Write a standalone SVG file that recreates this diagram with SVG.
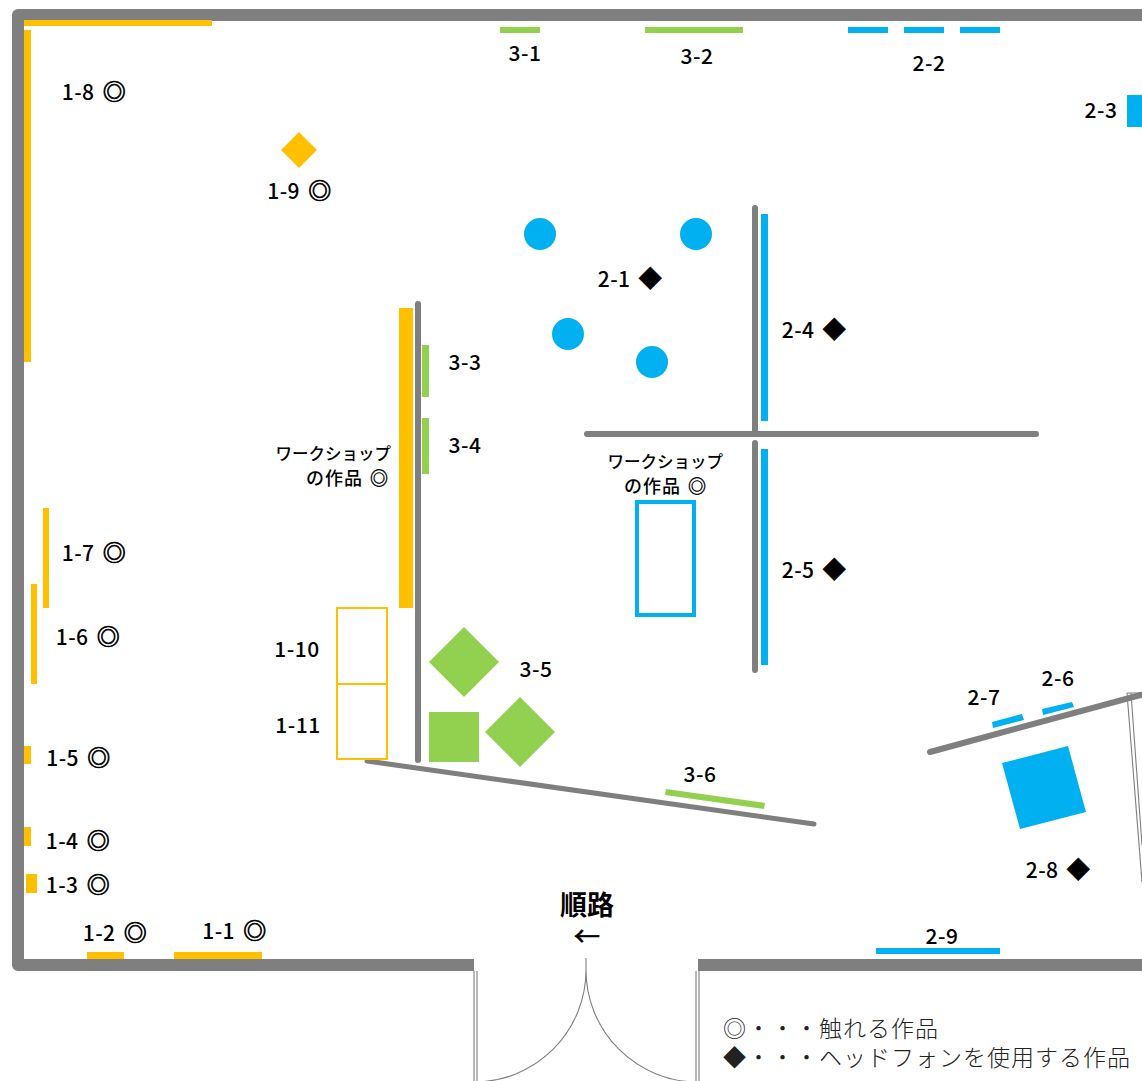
<svg xmlns="http://www.w3.org/2000/svg" width="1142" height="1081" viewBox="0 0 1142 1081">
<style>
text{font-family:"Noto Sans CJK JP","Noto Sans",sans-serif;fill:#000}
.l{font-size:21px;font-weight:500;text-anchor:middle;letter-spacing:.5px}
.s{font-size:23px;stroke:#000;stroke-width:.7px}
.j{font-size:16.500px;font-weight:500;text-anchor:end}
.k{font-size:18px;font-weight:500;letter-spacing:1px}
.g{font-size:23px;font-weight:300;letter-spacing:1px;fill:#222}
.y{fill:#ffc000}.b{fill:#00b0f0}.n{fill:#92d050}
.w{fill:none;stroke:#7f7f7f;stroke-linecap:round}
.o{fill:none;stroke:#7f7f7f;stroke-width:12;stroke-linejoin:round}
.t{fill:none;stroke:#7f7f7f;stroke-width:1.100}
</style>
<rect width="1142" height="1081" fill="#fff"/>
<g id="walls">
<path class="o" d="M1148 15H18V965H474"/>
<path class="o" d="M698 965H1148"/>
<path class="w" stroke-width="6" d="M418 304V760"/>
<path class="w" stroke-width="5" d="M367 761L814 824"/>
<path class="w" stroke-width="6" d="M755 208V431M587 434H1036M755 443V670"/>
<path class="w" stroke-width="6" d="M930 752L1148 693"/>
</g>
<g id="doors">
<path class="t" d="M474 971V1081M477 971V1081M696 971V1081M699 971V1081"/>
<path class="t" d="M586 958V970A112 112 0 0 1 474 1082M586 970A112 112 0 0 0 698 1082"/>
<path class="t" d="M1127 693H1142M1127 693L1142 882M1131 693L1142 845"/>
</g>
<g id="section1">
<rect class="y" x="24" y="20" width="188" height="6"/>
<rect class="y" x="24" y="30" width="7" height="332"/>
<rect class="y" x="43" y="508" width="6" height="100"/>
<rect class="y" x="31" y="584" width="6" height="100"/>
<rect class="y" x="24" y="746" width="7" height="18"/>
<rect class="y" x="24" y="827" width="7" height="19"/>
<rect class="y" x="26" y="874" width="11" height="19"/>
<rect class="y" x="87" y="952" width="37" height="7"/>
<rect class="y" x="174" y="952" width="88" height="7"/>
<polygon class="y" points="299,132 317,150 299,168 281,150"/>
<rect class="y" x="399" y="308" width="14" height="300"/>
<rect x="337" y="608" width="50" height="76" fill="none" stroke="#ffc000" stroke-width="2"/>
<rect x="337" y="684" width="50" height="75" fill="none" stroke="#ffc000" stroke-width="2"/>
</g>
<g id="section2">
<rect class="b" x="848" y="27" width="40" height="6"/>
<rect class="b" x="904" y="27" width="40" height="6"/>
<rect class="b" x="960" y="27" width="40" height="6"/>
<rect class="b" x="1127" y="95" width="15" height="32"/>
<circle class="b" cx="540" cy="234" r="16"/>
<circle class="b" cx="696" cy="234" r="16"/>
<circle class="b" cx="568" cy="334" r="16"/>
<circle class="b" cx="652" cy="362" r="16"/>
<rect class="b" x="761" y="214" width="7" height="207"/>
<rect class="b" x="761" y="449" width="7" height="216"/>
<rect x="637" y="502" width="57" height="113" fill="none" stroke="#00b0f0" stroke-width="4"/>
<polygon class="b" points="992,722 1022,714 1024,720 993,728"/>
<polygon class="b" points="1042,709 1072,702 1074,707 1043,715"/>
<polygon class="b" points="1002,763 1068,746 1086,812 1020,829"/>
<rect class="b" x="876" y="948" width="124" height="6"/>
</g>
<g id="section3">
<rect class="n" x="500" y="27" width="40" height="6"/>
<rect class="n" x="645" y="27" width="98" height="6"/>
<rect class="n" x="422" y="345" width="7" height="52"/>
<rect class="n" x="422" y="418" width="7" height="56"/>
<polygon class="n" points="464,627 499,662 464,697 429,662"/>
<rect class="n" x="429" y="712" width="50" height="50"/>
<polygon class="n" points="520,697 555,732 520,767 485,732"/>
<polygon class="n" points="666,789 765,803 764,809 665,795"/>
</g>
<g id="labels">
<text class="l" x="94" y="100">1-8 <tspan class="s" dx="3">◎</tspan></text>
<text class="l" x="299.500" y="199">1-9 <tspan class="s" dx="3">◎</tspan></text>
<text class="l" x="94" y="561">1-7 <tspan class="s" dx="3">◎</tspan></text>
<text class="l" x="88" y="645">1-6 <tspan class="s" dx="3">◎</tspan></text>
<text class="l" x="78.500" y="766">1-5 <tspan class="s" dx="3">◎</tspan></text>
<text class="l" x="78" y="849">1-4 <tspan class="s" dx="3">◎</tspan></text>
<text class="l" x="78" y="893">1-3 <tspan class="s" dx="3">◎</tspan></text>
<text class="l" x="115" y="941">1-2 <tspan class="s" dx="3">◎</tspan></text>
<text class="l" x="234.500" y="939">1-1 <tspan class="s" dx="3">◎</tspan></text>
<text class="l" x="297" y="657">1-10</text>
<text class="l" x="298" y="733">1-11</text>
<text class="l" x="525" y="61">3-1</text>
<text class="l" x="697" y="64">3-2</text>
<text class="l" x="929" y="71">2-2</text>
<text class="l" x="1101" y="118">2-3</text>
<text class="l" x="630" y="287">2-1 <tspan class="s" dx="3">◆</tspan></text>
<text class="l" x="814" y="338">2-4 <tspan class="s" dx="3">◆</tspan></text>
<text class="l" x="814" y="578">2-5 <tspan class="s" dx="3">◆</tspan></text>
<text class="l" x="465" y="370">3-3</text>
<text class="l" x="465" y="453">3-4</text>
<text class="l" x="536" y="677">3-5</text>
<text class="l" x="700" y="782">3-6</text>
<text class="l" x="984" y="705">2-7</text>
<text class="l" x="1058" y="686">2-6</text>
<text class="l" x="1058" y="878">2-8 <tspan class="s" dx="3">◆</tspan></text>
<text class="l" x="942" y="944">2-9</text>
<text class="j" x="391" y="460">ワークショップ</text>
<text class="k" x="306" y="485">の作品 <tspan dx="2" stroke="#000" stroke-width=".4">◎</tspan></text>
<text class="j" x="723" y="468">ワークショップ</text>
<text class="k" x="624" y="493">の作品 <tspan dx="2" stroke="#000" stroke-width=".4">◎</tspan></text>
<text font-size="27" font-weight="700" text-anchor="middle"><tspan x="587" y="915">順路</tspan><tspan x="587" y="946" font-size="26" font-weight="400" stroke="#000" stroke-width=".7">←</tspan></text>
<text class="g"><tspan x="723" y="1037">◎・・・触れる作品</tspan><tspan x="723" y="1066">◆・・・ヘッドフォンを使用する作品</tspan></text>
</g>
</svg>
